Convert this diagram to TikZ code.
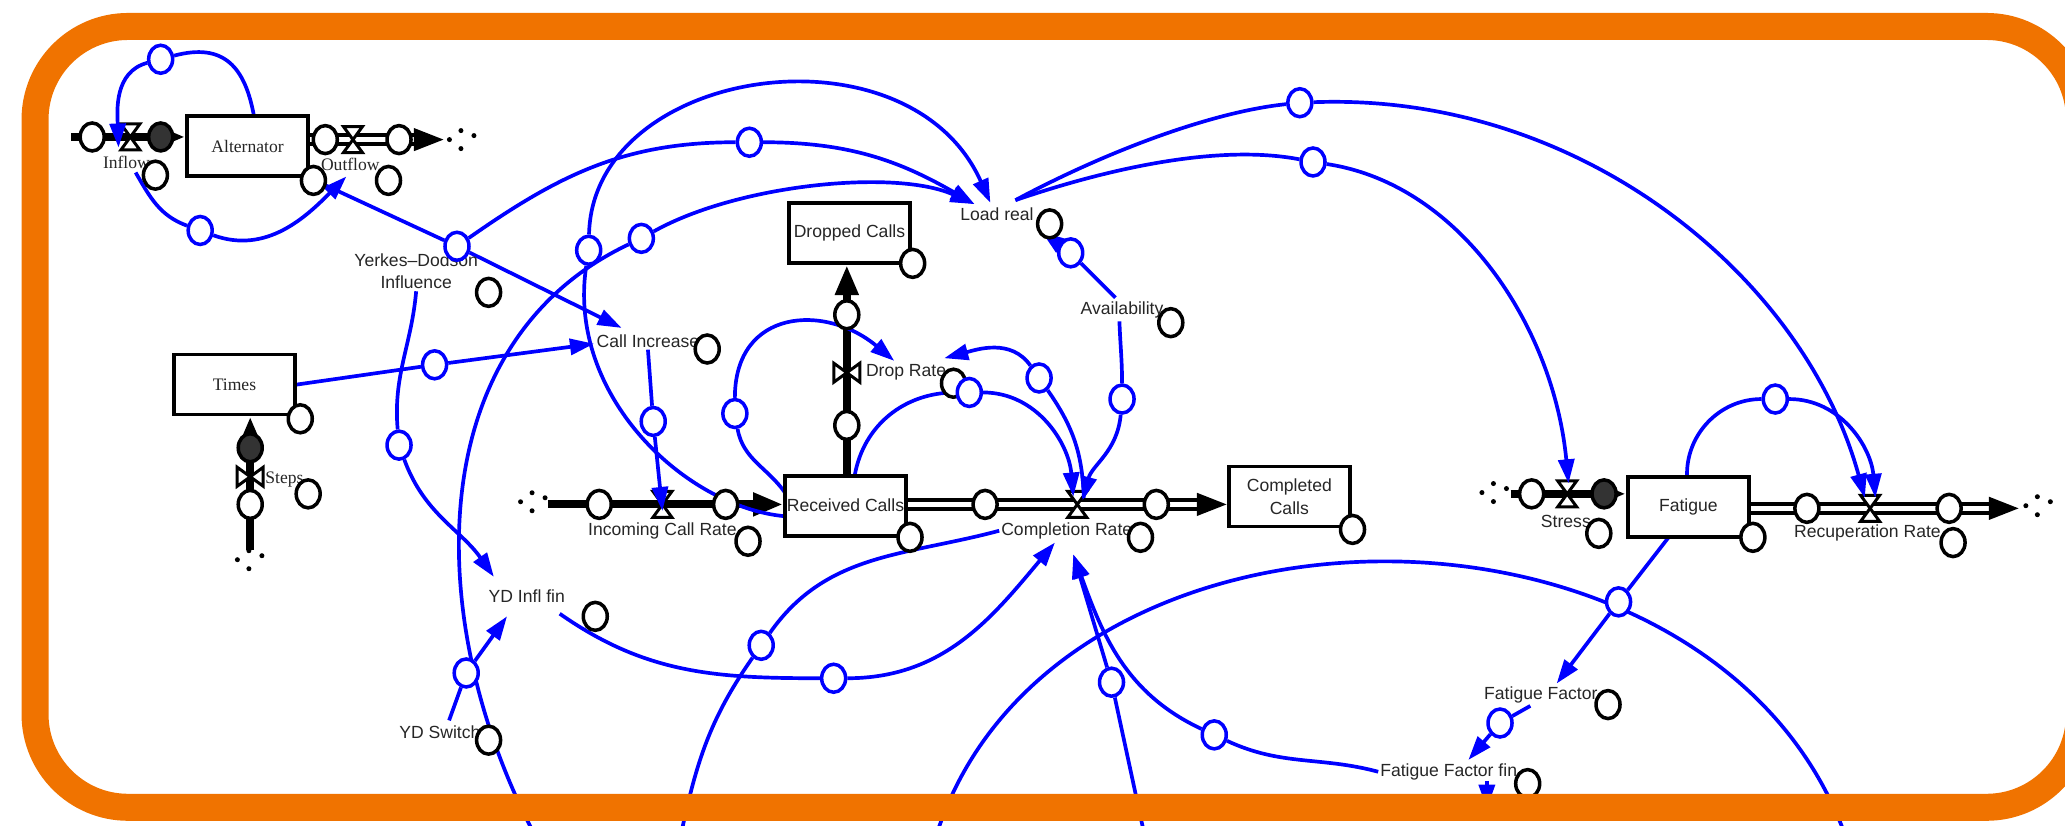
\documentclass[tikz,border=0pt]{standalone}
\usepackage{fontspec}
\setmainfont{Liberation Serif}
\setsansfont{Liberation Sans}
\usetikzlibrary{arrows.meta, shapes.geometric}
\definecolor{frameorange}{RGB}{240,115,0}
\pgfdeclarelayer{bg}
\pgfsetlayers{bg,main}
\tikzset{
  stock/.style={draw, line width=2.2pt, fill=white, minimum width=2.42cm, minimum height=1.2cm, inner sep=0pt, font=\sffamily\fontsize{10}{11}\selectfont, text=black!85},
  varlbl/.style={inner sep=1pt, font=\sffamily\fontsize{10}{11}\selectfont, text=black!85},
  serlbl/.style={inner sep=1pt, font=\rmfamily\fontsize{10}{11}\selectfont, text=black!85},
  hdl/.style={ellipse, draw, line width=2pt, fill=white, minimum width=0.48cm, minimum height=0.56cm, inner sep=0pt},
  hdldark/.style={hdl, fill=black!80},
  bhdl/.style={hdl, draw=blue},
  link/.style={draw=blue, line width=2.1pt, -{Triangle[length=0.48cm,width=0.32cm]}},
  plainlink/.style={draw=blue, line width=2.1pt},
  pipe/.style={line width=0.16cm, -{Triangle[length=0.6cm,width=0.44cm]}},
  dpipe/.style={line width=0.088cm, double=white, double distance=0.094cm, -{Triangle[length=0.6cm,width=0.44cm]}},
  valveh/.pic={\draw[line width=1.7pt, fill=white] (-0.19cm,0.26cm) -- (0.19cm,0.26cm) -- (-0.19cm,-0.26cm) -- (0.19cm,-0.26cm) -- cycle;},
  valvev/.pic={\draw[line width=1.7pt, fill=white] (-0.26cm,0.19cm) -- (-0.26cm,-0.19cm) -- (0.26cm,0.19cm) -- (0.26cm,-0.19cm) -- cycle;},
  sink/.pic={\foreach \dx/\dy in {-0.23/0, 0/0.18, 0.26/0.08, 0/-0.18} \fill (\dx cm,\dy cm) circle (0.05cm);},
}

\begin{document}
\begin{tikzpicture}[x=0.02634cm, y=-0.02634cm]
\useasboundingbox (0,0) rectangle (1568,627);

% stocks
\node[stock, font=\rmfamily\fontsize{10}{11}\selectfont] (alt) at (188,111) {Alternator};
\node[stock, font=\rmfamily\fontsize{10}{11}\selectfont] (times) at (178,292) {Times};
\node[stock] (dropped) at (645,177) {Dropped Calls};
\node[stock] (received) at (642,384) {Received Calls};
\node[stock, align=center, font=\sffamily\fontsize{10}{13}\selectfont] (completed) at (979,377) {Completed\\Calls};
\node[stock] (fatigue) at (1282,385) {Fatigue};

% variable and flow names
\node[serlbl] (inflowL) at (96,123) {Inflow};
\node[serlbl] (outflowL) at (266,125) {Outflow};
\node[varlbl, align=center, font=\sffamily\fontsize{10}{13}\selectfont] (yerkes) at (316,206) {Yerkes–Dodson\\Influence};
\node[serlbl] (stepsL) at (216,364) {Steps};
\node[varlbl] (callinc) at (492,259) {Call Increase};
\node[varlbl] (loadreal) at (757,163) {Load real};
\node[varlbl] (avail) at (852,235) {Availability};
\node[varlbl] (droprate) at (688,283) {Drop Rate};
\node[varlbl] (incoming) at (503,403) {Incoming Call Rate};
\node[varlbl] (completion) at (810,403) {Completion Rate};
\node[varlbl] (stressL) at (1189,396) {Stress};
\node[varlbl] (recup) at (1418,405) {Recuperation Rate};
\node[varlbl] (ydinfl) at (400,453) {YD Infl fin};
\node[varlbl] (ydswitch) at (334,556) {YD Switch};
\node[varlbl] (ffactor) at (1170,528) {Fatigue Factor};
\node[varlbl] (fffin) at (1100,586) {Fatigue Factor fin};

% black handles
\foreach \n/\x/\y in {1/70/104, 3/118/133, 4/247/106, 5/303/106, 6/238/137, 7/295/137,
  8/371/222, 9/228/318, 11/190/383, 12/234/375, 13/537/265, 14/455/383, 15/551/383,
  16/568/411, 17/693/200, 18/797/170, 19/889/245, 20/643/239, 21/643/323, 22/724/291,
  23/691/408, 24/748/383, 25/878/383, 26/866/408, 27/1027/402, 28/1163/375, 30/1214/405,
  31/1331/408, 32/1372/386, 33/1480/386, 34/1483/412, 35/452/468, 36/371/562,
  37/1221/535, 38/1160/595}
  \node[hdl] (k\n) at (\x,\y) {};
\node[hdldark] (k2) at (122,104) {};
\node[hdldark] (k10) at (190,340) {};
\node[hdldark] (k29) at (1218,375) {};

% blue handles
\foreach \n/\x/\y in {1/122/45, 2/152/175, 3/347/187, 4/569/108, 5/447/190, 6/487/181,
  7/987/78, 8/997/123, 9/813/192, 10/330/277, 11/496/320, 12/303/338, 13/558/314,
  14/736/298, 15/789/287, 16/852/303, 17/1348/303, 18/578/490, 19/633/515, 20/354/511,
  21/844/518, 22/922/558, 23/1229/457, 24/1139/549}
  \node[bhdl] (b\n) at (\x,\y) {};

% link ends
\coordinate (altT) at (193,89);
\coordinate (ivA) at (90,112);
\coordinate (inS) at (103,131);
\coordinate (ofA) at (263,134);
\coordinate (ciA) at (472,249);
\coordinate (lrA) at (740,155);
\coordinate (lrB) at (752,154);
\coordinate (lrC) at (791,176);
\coordinate (lrR) at (771,152);
\coordinate (rvA) at (1416,378);
\coordinate (rvB) at (1424,378);
\coordinate (svA) at (1191,367);
\coordinate (avN) at (847,226);
\coordinate (avS) at (850,244);
\coordinate (cvA) at (822,380);
\coordinate (cvC) at (815,377);
\coordinate (cvD) at (823,378);
\coordinate (drA) at (717,272);
\coordinate (drB) at (679,274);
\coordinate (rcL) at (596,392);
\coordinate (rcL2) at (596,374);
\coordinate (rcT) at (649,361);
\coordinate (cbA) at (451,261);
\coordinate (ciV) at (503,388);
\coordinate (ydA) at (375,438);
\coordinate (ydB) at (385,468);
\coordinate (ydE) at (425,466);
\coordinate (ysw) at (341,547);
\coordinate (cvB) at (801,412);
\coordinate (cvE) at (815,421);
\coordinate (ftT) at (1281,362);
\coordinate (ftB) at (1267,408);
\coordinate (ffA) at (1182,519);
\coordinate (ffS) at (1162,536);
\coordinate (fffA) at (1115,577);
\coordinate (ffU) at (1129,593);
\coordinate (ffD) at (1129,614);
\coordinate (bot1) at (406,634);
\coordinate (bot2) at (517,634);
\coordinate (bot3) at (711,634);
\coordinate (bot4) at (1401,634);
\coordinate (bot5) at (869,634);

\begin{pgfonlayer}{bg}
  % flows
  \coordinate (infsrc) at (54,104);
  \draw[pipe] (infsrc) -- (infsrc -| alt.west);
  \coordinate (ofsnk) at (337,106);
  \draw[dpipe] (alt.east |- ofsnk) -- (ofsnk);
  \coordinate (stsrc) at (190,418);
  \draw[pipe] (stsrc) -- (stsrc |- times.south);
  \coordinate (icsrc) at (416,383);
  \draw[pipe] (icsrc) -- (icsrc -| received.west);
  \draw[pipe] (received.north -| k20) -- (k20 |- dropped.south);
  \draw[dpipe] (received.east |- k24) -- (k24 -| completed.west);
  \coordinate (stsrc2) at (1147,375);
  \draw[pipe] (stsrc2) -- (stsrc2 -| fatigue.west);
  \coordinate (rcsnk) at (1533,386);
  \draw[dpipe] (fatigue.east |- rcsnk) -- (rcsnk);

  \pic at (99,104) {valveh};
  \pic at (268,106) {valveh};
  \pic at (190,362) {valvev};
  \pic at (503,383) {valveh};
  \pic at (643,283) {valvev};
  \pic at (818,383) {valveh};
  \pic at (1190,375) {valveh};
  \pic at (1420,386) {valveh};

  \pic at (350,106) {sink};
  \pic at (189,425) {sink};
  \pic at (404,381) {sink};
  \pic at (1134,374) {sink};
  \pic at (1547,384) {sink};

  % connectors
  \draw[link] (altT) to[out=100,in=15,looseness=1.3] (b1) to[out=195,in=92] (ivA);
  \draw[link] (inS) to[out=-60,in=160] (b2) to[out=-20,in=225] (ofA);
  \draw[link] (alt.south east) -- (b3) -- (ciA);
  \draw[link] (b3) to[out=35,in=180] (b4) to[out=0,in=150] (lrA);
  \draw[link] (bot1) .. controls (320,470) and (320,260) .. (b6) .. controls (560,140) and (680,128) .. (lrA);
  \draw[link] (rcL) .. controls (520,385) and (430,300) .. (b5) .. controls (450,50) and (690,15) .. (lrB);
  \draw[link] (lrR) .. controls (840,115) and (920,85) .. (b7) .. controls (1200,70) and (1370,210) .. (rvA);
  \draw[link] (lrR) .. controls (850,125) and (930,110) .. (b8) .. controls (1110,140) and (1180,250) .. (svA);
  \draw[link] (avN) -- (b9) -- (lrC);
  \draw[link] (avS) to[out=-88,in=90] (b16) to[out=-95,in=75] (cvA);
  \draw[link] (times.east) -- (b10) -- (cbA);
  \draw[link] (callinc.south) -- (b11) -- (ciV);
  \draw[link] (yerkes.south) to[out=-95,in=95] (b12) to[out=-70,in=125] (ydA);
  \draw[link] (ysw) -- (b20) -- (ydB);
  \draw[link] (ydE) to[out=-35,in=180] (b19) to[out=0,in=230] (cvB);
  \draw[plainlink] (bot2) to[out=78,in=235] (b18) to[out=55,in=195] (completion.west);
  \draw[link] (rcT) to[out=80,in=180] (b14) to[out=0,in=95] (cvC);
  \draw[link] (cvD) to[out=92,in=-55] (b15) to[out=125,in=15] (drA);
  \draw[link] (rcL2) to[out=125,in=-80] (b13) to[out=90,in=140,looseness=1.4] (drB);
  \draw[link] (ftT) to[out=92,in=180] (b17) to[out=0,in=95] (rvB);
  \draw[link] (ftB) -- (b23) -- (ffA);
  \draw[link] (ffS) -- (b24) -- (fffA);
  \draw[link] (fffin.west) to[out=165,in=-25] (b22) to[out=155,in=-70] (cvE);
  \draw[link] (bot5) -- (b21) -- (cvE);
  \draw[plainlink] (bot3) .. controls (800,357) and (1300,357) .. (bot4);
  \draw[link] (ffU) -- (ffD);
\end{pgfonlayer}

% frame
\draw[frameorange, line width=0.54cm, rounded corners=1.86cm] (26.6,20.1) rectangle (1579,613);
\end{tikzpicture}
\end{document}
